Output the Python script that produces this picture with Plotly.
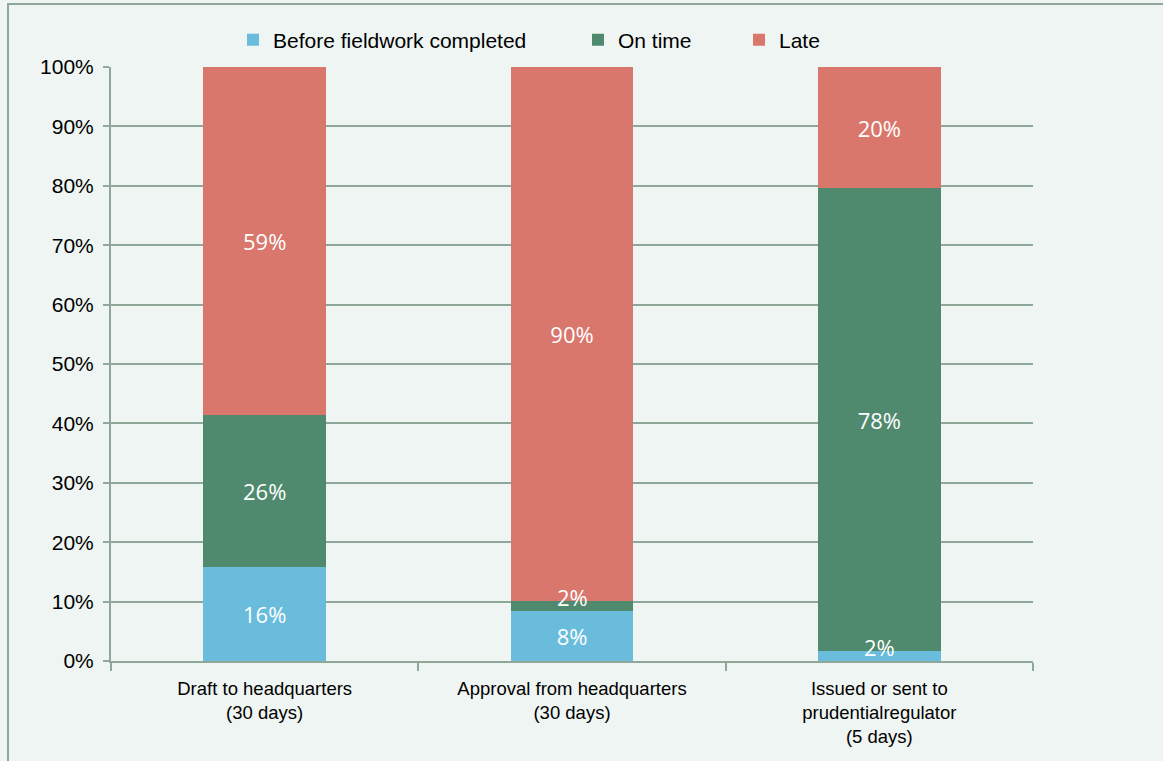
import plotly.graph_objects as go

categories = ["Draft to headquarters<br>(30 days)",
              "Approval from headquarters<br>(30 days)",
              "Issued or sent to<br>prudentialregulator<br>(5 days)"]
before_fieldwork = [15.8, 8.4, 1.7]
on_time = [25.6, 1.7, 77.9]
late = [58.6, 89.9, 20.4]
y_ticks = [0, 10, 20, 30, 40, 50, 60, 70, 80, 90, 100]
y_tick_labels = [f"{v}%" for v in y_ticks]

colors = {"before": "#69BCDB", "on": "#4F8A6E", "late": "#D9776C"}
grid_col = "#8FA899"
bg = "#EFF5F2"
label_font = dict(family="Open Sans", size=22, color="white")
SMALL = 3.0

fig = go.Figure()
series = [
    ("Before fieldwork completed", before_fieldwork, colors["before"], "legend"),
    ("On time", on_time, colors["on"], "legend2"),
    ("Late", late, colors["late"], "legend3"),
]
annotations = []
base = [0.0] * len(categories)
for name, vals, col, lg in series:
    texts = []
    for i, v in enumerate(vals):
        if v < SMALL:
            texts.append("")
            annotations.append(dict(x=categories[i], y=base[i] + v / 2, xref="x", yref="y",
                                    text=f"{round(v)}%", showarrow=False, yshift=9,
                                    font=label_font))
        else:
            texts.append(f"{round(v)}%")
        base[i] += v
    fig.add_trace(go.Bar(
        x=categories, y=vals, name=name, marker_color=col, marker_line_width=0,
        text=texts, textposition="inside",
        insidetextanchor="middle", constraintext="none",
        textfont=label_font,
        legend=lg, width=0.4, hoverinfo="skip",
    ))

W, H = 1163, 761
L, R, T, B = 111, 1033, 67, 661
pw, ph = R - L, B - T

def px(x):
    return (x - L) / pw

def py(y):
    return (B - y) / ph

legend_common = dict(orientation="h", yanchor="middle", xanchor="left",
                     bgcolor="rgba(0,0,0,0)", borderwidth=0,
                     font=dict(family="Liberation Sans", size=21, color="#000000"),
                     itemwidth=30, tracegroupgap=0)

fig.update_layout(
    width=W, height=H,
    margin=dict(l=L, r=W - R, t=T, b=H - B, pad=0),
    paper_bgcolor=bg, plot_bgcolor=bg,
    barmode="stack", bargap=0.6,
    showlegend=True,
    legend=dict(x=px(233), y=py(40), **legend_common),
    legend2=dict(x=px(578), y=py(40), **legend_common),
    legend3=dict(x=px(739), y=py(40), **legend_common),
    font=dict(family="Liberation Sans", color="#000000"),
    xaxis=dict(
        type="category", showgrid=False, showline=True, linecolor=grid_col, linewidth=2,
        ticks="outside", tickson="boundaries", ticklen=8, tickwidth=2, tickcolor=grid_col,
        tickfont=dict(family="Liberation Sans", size=18.5, color="#000000"),
        ticklabelstandoff=10,
    ),
    yaxis=dict(
        range=[0, 100], tickvals=y_ticks, ticktext=y_tick_labels,
        showgrid=True, gridcolor=grid_col, gridwidth=2,
        showline=True, linecolor=grid_col, linewidth=2,
        ticks="outside", ticklen=6, tickwidth=2, tickcolor=grid_col,
        tickfont=dict(family="Liberation Sans", size=21, color="#000000"),
        ticklabelstandoff=5,
        zeroline=False, fixedrange=True,
    ),
    annotations=annotations,
    shapes=[dict(type="rect", xref="paper", yref="paper",
                 x0=px(8), x1=px(1175), y0=py(775), y1=py(4),
                 line=dict(color="#8FA899", width=2), fillcolor="rgba(0,0,0,0)", layer="above")],
)

fig.write_html("out.html", config={"displayModeBar": False},
               post_script="document.body.style.margin='0';document.body.style.background='#F4F8F6';")
